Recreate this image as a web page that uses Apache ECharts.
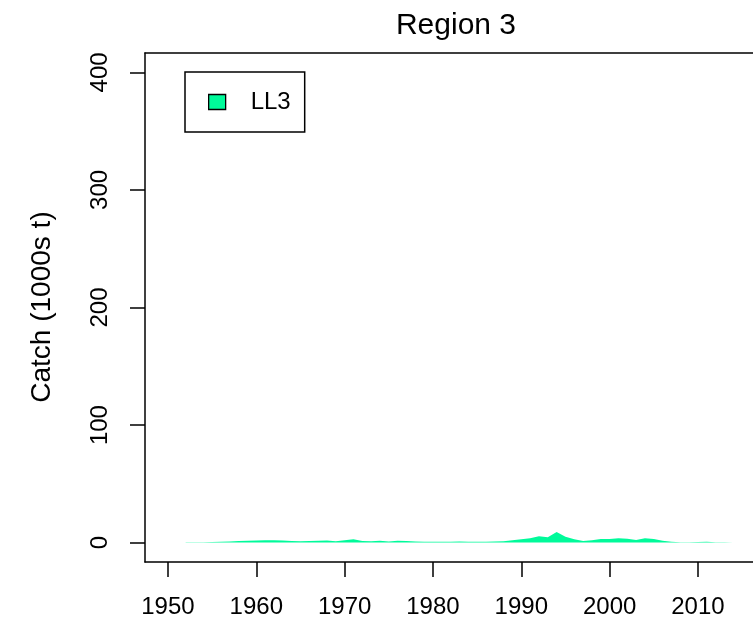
<!DOCTYPE html>
<html>
<head>
<meta charset="utf-8">
<title>Region 3 catch</title>
<script src="https://cdn.jsdelivr.net/npm/echarts@6/dist/echarts.min.js"></script>
<style>
  html, body { margin: 0; padding: 0; background: #fff; }
  #chart { width: 753px; height: 620px; }
</style>
</head>
<body>
<div id="chart"></div>
<script>
// Annual longline catch in Region 3 (thousands of tonnes)
const years = [
  1952, 1953, 1954, 1955, 1956, 1957, 1958, 1959, 1960, 1961,
  1962, 1963, 1964, 1965, 1966, 1967, 1968, 1969, 1970, 1971,
  1972, 1973, 1974, 1975, 1976, 1977, 1978, 1979, 1980, 1981,
  1982, 1983, 1984, 1985, 1986, 1987, 1988, 1989, 1990, 1991,
  1992, 1993, 1994, 1995, 1996, 1997, 1998, 1999, 2000, 2001,
  2002, 2003, 2004, 2005, 2006, 2007, 2008, 2009, 2010, 2011,
  2012, 2013, 2014
];
const catchLL3 = [
  0.3, 0.4, 0.3, 0.5, 0.8, 1.0, 1.3, 1.5, 1.7, 1.9,
  2.1, 1.8, 1.4, 1.2, 1.3, 1.5, 1.7, 1.1, 2.0, 2.8,
  1.4, 1.2, 1.5, 1.0, 1.6, 1.4, 0.9, 0.8, 0.8, 0.8,
  0.8, 0.9, 0.8, 0.7, 0.8, 0.9, 1.2, 2.0, 2.8, 3.6,
  5.5, 4.5, 9.0, 5.0, 2.8, 1.3, 2.0, 3.0, 3.0, 3.6,
  3.2, 2.3, 3.7, 3.0, 1.5, 0.7, 0.4, 0.4, 0.5, 0.8,
  0.4, 0.3, 0.3
];
const xTicks = [1950, 1960, 1970, 1980, 1990, 2000, 2010];
const yTicks = [0, 100, 200, 300, 400];
const seriesName = 'LL3';
const fillColor = '#00FA9A';

const FONT = 'Liberation Sans, Arial, sans-serif';
const AXIS_LINE = { show: true, onZero: false, lineStyle: { color: '#000', width: 1.5 } };
const chart = echarts.init(document.getElementById('chart'), null, { renderer: 'canvas' });

chart.setOption({
  animation: false,
  backgroundColor: '#ffffff',
  title: {
    text: 'Region 3',
    left: 451,
    top: 6,
    textAlign: 'center',
    textStyle: { fontFamily: FONT, fontSize: 30, fontWeight: 'normal', color: '#000' }
  },
  legend: {
    left: 185,
    top: 72,
    orient: 'vertical',
    padding: [18, 14, 18, 23],
    borderColor: '#000',
    borderWidth: 1.5,
    backgroundColor: '#fff',
    itemWidth: 17,
    itemHeight: 15,
    icon: 'rect',
    data: [{
      name: seriesName,
      itemStyle: { color: fillColor, borderColor: '#000', borderWidth: 1.3 }
    }],
    textStyle: {
      fontFamily: FONT, fontSize: 24, color: '#000',
      lineHeight: 24, padding: [0, 0, 0, 20]
    }
  },
  graphic: [{
    type: 'text',
    x: 42,
    y: 307,
    rotation: Math.PI / 2,
    style: {
      text: 'Catch (1000s t)',
      fontFamily: FONT,
      fontSize: 28,
      fill: '#000',
      textAlign: 'center',
      textVerticalAlign: 'middle'
    }
  }],
  // plot box runs on past the right edge of the page
  grid: {
    left: 145,
    top: 53,
    right: 0,
    height: 509,
    show: false
  },
  xAxis: [{
    type: 'value',
    position: 'bottom',
    min: 1947.4,
    max: 2016.23,
    axisLine: AXIS_LINE,
    splitLine: { show: false },
    axisTick: {
      show: true,
      length: 15,
      customValues: xTicks,
      lineStyle: { color: '#000', width: 1.5 }
    },
    axisLabel: {
      customValues: xTicks,
      margin: 33,
      fontFamily: FONT,
      fontSize: 24,
      color: '#000',
      formatter: v => String(v)
    }
  }, {
    // top edge of the plot box
    type: 'value',
    position: 'top',
    min: 1947.4,
    max: 2016.23,
    axisLine: AXIS_LINE,
    axisTick: { show: false },
    axisLabel: { show: false },
    splitLine: { show: false }
  }],
  yAxis: {
    type: 'value',
    min: -16.5,
    max: 416.5,
    axisLine: AXIS_LINE,
    splitLine: { show: false },
    axisTick: {
      show: true,
      length: 15,
      customValues: yTicks,
      lineStyle: { color: '#000', width: 1.5 }
    },
    axisLabel: {
      customValues: yTicks,
      rotate: 90,
      margin: 33,
      fontFamily: FONT,
      fontSize: 24,
      color: '#000'
    }
  },
  series: [{
    name: seriesName,
    type: 'line',
    xAxisIndex: 0,
    data: years.map((y, i) => [y, catchLL3[i]]),
    showSymbol: false,
    symbol: 'none',
    lineStyle: { width: 0 },
    itemStyle: { color: fillColor },
    areaStyle: { color: fillColor, opacity: 1 },
    z: 2
  }]
});
</script>
</body>
</html>
